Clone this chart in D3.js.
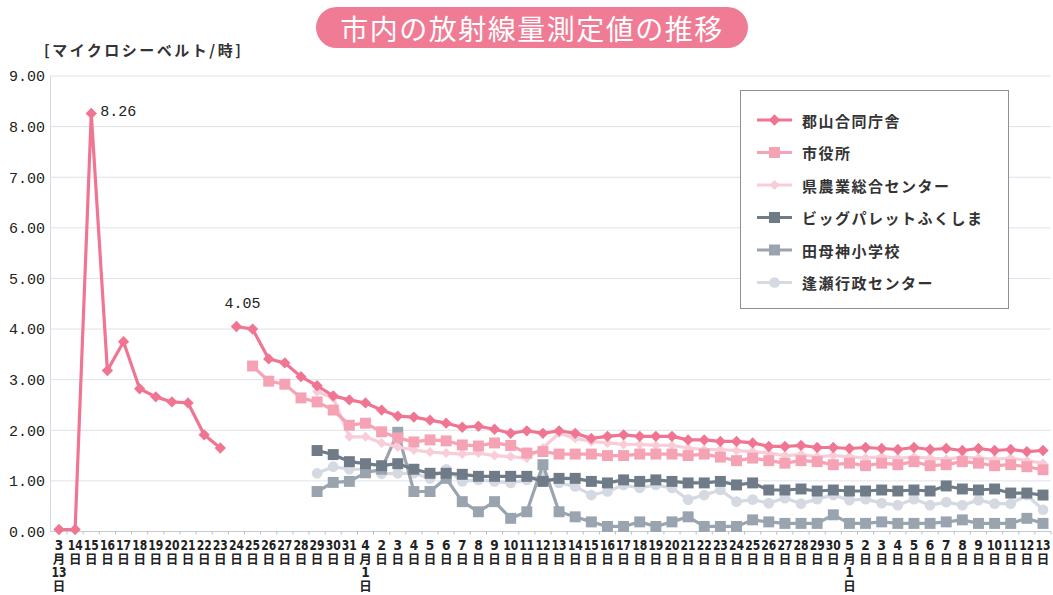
<!DOCTYPE html>
<html>
<head>
<meta charset="utf-8">
<script src="https://cdn.jsdelivr.net/npm/d3@7"></script>
<style>
  body { margin: 0; background: #fff; }
  .chart text { font-family: "Noto Sans CJK JP", sans-serif; fill: #222; }
  .num { font-family: "Liberation Mono", "DejaVu Sans Mono", monospace !important; }
  .xday { font-family: "Liberation Sans Narrow", "DejaVu Sans Condensed", sans-serif !important; font-weight: bold; }
</style>
</head>
<body>
<svg class="chart" width="1053" height="595"></svg>
<script>
const dates = ["3/13","3/14","3/15","3/16","3/17","3/18","3/19","3/20","3/21","3/22","3/23","3/24","3/25","3/26","3/27","3/28","3/29","3/30","3/31",
  "4/1","4/2","4/3","4/4","4/5","4/6","4/7","4/8","4/9","4/10","4/11","4/12","4/13","4/14","4/15","4/16","4/17","4/18","4/19","4/20",
  "4/21","4/22","4/23","4/24","4/25","4/26","4/27","4/28","4/29","4/30",
  "5/1","5/2","5/3","5/4","5/5","5/6","5/7","5/8","5/9","5/10","5/11","5/12","5/13"];

const seriesNames = ["郡山合同庁舎", "市役所", "県農業総合センター", "ビッグパレットふくしま", "田母神小学校", "逢瀬行政センター"];

const koriyama = [0.04, 0.04, 8.26, 3.18, 3.75, 2.82, 2.66, 2.56, 2.54, 1.91, 1.65,
  4.05, 4.00, 3.41, 3.33, 3.06, 2.88, 2.68, 2.60, 2.54, 2.40, 2.28, 2.26, 2.20, 2.14, 2.06, 2.08, 2.02,
  1.94, 1.99, 1.94, 1.99, 1.94, 1.84, 1.88, 1.91, 1.88, 1.88, 1.88, 1.81, 1.81, 1.78, 1.78, 1.75, 1.68,
  1.68, 1.70, 1.66, 1.66, 1.64, 1.66, 1.64, 1.62, 1.66, 1.62, 1.64, 1.60, 1.64, 1.60, 1.62, 1.58, 1.60];
const shiyakusho = [null, null, null, null, null, null, null, null, null, null, null, null,
  3.27, 2.97, 2.91, 2.64, 2.56, 2.40, 2.10, 2.14, 1.97, 1.85, 1.77, 1.81, 1.79, 1.71, 1.69, 1.75,
  1.70, 1.55, 1.58, 1.53, 1.53, 1.53, 1.50, 1.50, 1.53, 1.53, 1.53, 1.50, 1.53, 1.47, 1.40, 1.45, 1.40,
  1.35, 1.40, 1.38, 1.32, 1.35, 1.30, 1.35, 1.32, 1.38, 1.30, 1.32, 1.38, 1.35, 1.30, 1.32, 1.28, 1.22];
const nougyou = [null, null, null, null, null, null, null, null, null, null, null, null, null, null, null, null,
  2.76, 2.64, 1.87, 1.87, 1.75, 1.67, 1.61, 1.57, 1.55, 1.53, 1.55, 1.50,
  1.48, 1.45, 1.65, 1.94, 1.84, 1.78, 1.75, 1.72, 1.72, 1.70, 1.70, 1.65, 1.62, 1.62, 1.60, 1.58, 1.55,
  1.50, 1.52, 1.48, 1.50, 1.48, 1.45, 1.48, 1.45, 1.47, 1.45, 1.43, 1.47, 1.45, 1.43, 1.45, 1.40, 1.35];
const bigPalette = [null, null, null, null, null, null, null, null, null, null, null, null, null, null, null, null,
  1.60, 1.52, 1.38, 1.34, 1.30, 1.34, 1.23, 1.15, 1.15, 1.13, 1.09, 1.09,
  1.09, 1.09, 0.99, 1.05, 1.05, 0.99, 0.96, 1.02, 0.99, 1.02, 0.99, 0.96, 0.96, 0.99, 0.92, 0.96, 0.82,
  0.82, 0.84, 0.80, 0.82, 0.80, 0.80, 0.82, 0.80, 0.82, 0.80, 0.90, 0.84, 0.82, 0.84, 0.76, 0.76, 0.72];
const tamogami = [null, null, null, null, null, null, null, null, null, null, null, null, null, null, null, null,
  0.79, 0.97, 0.99, 1.16, 1.23, 1.96, 0.79, 0.79, 1.05, 0.59, 0.39, 0.59,
  0.26, 0.39, 1.32, 0.39, 0.29, 0.19, 0.10, 0.10, 0.19, 0.10, 0.19, 0.29, 0.10, 0.10, 0.10, 0.23, 0.19,
  0.16, 0.16, 0.16, 0.33, 0.16, 0.16, 0.19, 0.16, 0.16, 0.16, 0.19, 0.23, 0.16, 0.16, 0.16, 0.26, 0.16];
const ouse = [null, null, null, null, null, null, null, null, null, null, null, null, null, null, null, null,
  1.15, 1.28, 1.23, 1.23, 1.14, 1.15, 1.15, 1.05, 1.23, 0.99, 1.02, 0.99,
  0.96, 1.02, 1.09, 0.96, 0.89, 0.72, 0.79, 0.92, 0.86, 0.92, 0.86, 0.63, 0.72, 0.82, 0.59, 0.63, 0.56,
  0.66, 0.55, 0.64, 0.72, 0.62, 0.64, 0.56, 0.52, 0.64, 0.52, 0.58, 0.52, 0.62, 0.55, 0.55, 0.72, 0.43];

// koriyama line is not joined between 3/23 and 3/24
const lineGaps = [["郡山合同庁舎", "3/23"]];
const labelledPoints = [["郡山合同庁舎", "3/15"], ["郡山合同庁舎", "3/24"]];
const yTicks = [0, 1, 2, 3, 4, 5, 6, 7, 8, 9];

const values = [koriyama, shiyakusho, nougyou, bigPalette, tamogami, ouse];
const colors = ["#f07592", "#f6a2b5", "#f9cdd7", "#6f7b87", "#9aa4ae", "#d5d9e1"];
const markers = ["diamond", "square", "smalldiamond", "square", "square", "circle"];

let svg = d3.select(".chart");
let x = d3.scalePoint().domain(dates).range([59, 1043]);
let y = d3.scaleLinear().domain([0, 9]).range([531.5, 76]);
const step = x.step();

/* title */
svg.append("rect").attr("x", 316).attr("y", 7).attr("width", 432).attr("height", 41)
  .attr("rx", 20.5).attr("fill", "#f07b94");
svg.append("text").text("市内の放射線量測定値の推移")
  .attr("x", 532).attr("y", 28).attr("text-anchor", "middle").attr("dominant-baseline", "central")
  .style("font-size", "28px").style("letter-spacing", "1.5px").style("fill", "#fff");

svg.append("text").text("[マイクロシーベルト/時]")
  .attr("x", 44).attr("y", 49).attr("dominant-baseline", "central")
  .style("font-size", "15px").style("letter-spacing", "2.5px").style("font-weight", "bold").style("fill", "#333");

/* grid + axes */
svg.append("g").selectAll("line").data(yTicks).enter().append("line")
  .attr("x1", 50).attr("x2", 1051)
  .attr("y1", d => y(d)).attr("y2", d => y(d))
  .attr("stroke", d => d === 0 ? "#c4cad4" : "#dde2ea").attr("stroke-width", 1);
svg.append("line").attr("x1", 50.5).attr("x2", 50.5).attr("y1", y(9)).attr("y2", y(0))
  .attr("stroke", "#d4d9e2");

let yAxis = svg.append("g").attr("transform", "translate(50,0)")
  .call(d3.axisLeft(y).tickValues(yTicks).tickFormat(d3.format(".2f")).tickSize(0).tickPadding(5));
yAxis.select(".domain").remove();
yAxis.selectAll("text").attr("class", "num").style("font-size", "15px").style("fill", "#222");

svg.append("g").selectAll("line").data(dates).enter().append("line")
  .attr("x1", d => x(d) + step / 2).attr("x2", d => x(d) + step / 2)
  .attr("y1", y(0)).attr("y2", y(0) + 3)
  .attr("stroke", "#b8bec8");

/* x labels: day number over 日, month starts written out as m/月/d/日 */
let xLabels = svg.append("g").selectAll("g").data(dates).enter().append("g")
  .attr("transform", d => "translate(" + x(d) + ",0)");
xLabels.each(function(d, i) {
  let g = d3.select(this);
  let md = d.split("/");
  let first = i === 0 || md[1] === "1";
  let rows = first ? [md[0], "月", md[1], "日"] : [md[1], "日"];
  rows.forEach(function(t, r) {
    let txt = g.append("text").text(t)
      .attr("y", 545 + r * 13.5).attr("text-anchor", "middle").attr("dominant-baseline", "central")
      .style("font-size", "13.5px").style("fill", "#222");
    if (/\d/.test(t)) {
      txt.attr("class", "xday");
      if (t.length > 1) txt.attr("textLength", 15).attr("lengthAdjust", "spacingAndGlyphs");
    } else {
      txt.style("font-size", "12.5px").style("font-weight", "bold");
    }
  });
});

/* marker shapes */
function drawMarker(sel, type, color) {
  if (type === "diamond") {
    sel.append("path").attr("d", d3.symbol(d3.symbolSquare, 64)()).attr("transform", "rotate(45)").attr("fill", color);
  } else if (type === "smalldiamond") {
    sel.append("path").attr("d", d3.symbol(d3.symbolSquare, 50)()).attr("transform", "rotate(45)").attr("fill", color);
  } else if (type === "square") {
    sel.append("path").attr("d", d3.symbol(d3.symbolSquare, 120)()).attr("fill", color);
  } else {
    sel.append("path").attr("d", d3.symbol(d3.symbolCircle, 90)()).attr("fill", color);
  }
}

/* series, last first so koriyama sits on top */
let line = d3.line().x(d => x(d.date)).y(d => y(d.value));
for (let s = seriesNames.length - 1; s >= 0; s--) {
  let pts = dates.map((d, i) => ({date: d, value: values[s][i]}));
  let segments = [];
  let cur = [];
  pts.forEach(function(p) {
    if (p.value === null) { if (cur.length) segments.push(cur); cur = []; return; }
    cur.push(p);
    if (lineGaps.some(g => g[0] === seriesNames[s] && g[1] === p.date)) { segments.push(cur); cur = []; }
  });
  if (cur.length) segments.push(cur);

  let g = svg.append("g");
  g.selectAll("path.ln").data(segments).enter().append("path").attr("class", "ln")
    .attr("d", line).attr("fill", "none").attr("stroke", colors[s])
    .attr("stroke-width", 3.2).attr("stroke-linejoin", "round");
  let m = g.selectAll("g.mk").data(pts.filter(p => p.value !== null)).enter().append("g").attr("class", "mk")
    .attr("transform", p => "translate(" + x(p.date) + "," + y(p.value) + ")");
  drawMarker(m, markers[s], colors[s]);
}

/* value labels */
labelledPoints.forEach(function(lp, k) {
  let s = seriesNames.indexOf(lp[0]);
  let v = values[s][dates.indexOf(lp[1])];
  let t = svg.append("text").text(v.toFixed(2)).attr("class", "num")
    .attr("dominant-baseline", "central").style("font-size", "15px").style("fill", "#222");
  if (k === 0) t.attr("x", x(lp[1]) + 9).attr("y", y(v) - 1);
  else t.attr("x", x(lp[1]) + 6).attr("y", y(v) - 22).attr("text-anchor", "middle");
});

/* legend */
let legend = svg.append("g");
legend.append("rect").attr("x", 740.5).attr("y", 90.5).attr("width", 268).attr("height", 218)
  .attr("fill", "#fff").attr("stroke", "#8c8f96").attr("stroke-width", 1);
seriesNames.forEach(function(name, s) {
  let ly = 120 + s * 32.5;
  legend.append("line").attr("x1", 757).attr("x2", 792).attr("y1", ly).attr("y2", ly)
    .attr("stroke", colors[s]).attr("stroke-width", 3);
  let mk = legend.append("g").attr("transform", "translate(774.5," + ly + ")");
  drawMarker(mk, markers[s], colors[s]);
  legend.append("text").text(name).attr("x", 802).attr("y", ly).attr("dominant-baseline", "central")
    .style("font-size", "15px").style("letter-spacing", "1.5px").style("font-weight", "bold").style("fill", "#333");
});
</script>
</body>
</html>
